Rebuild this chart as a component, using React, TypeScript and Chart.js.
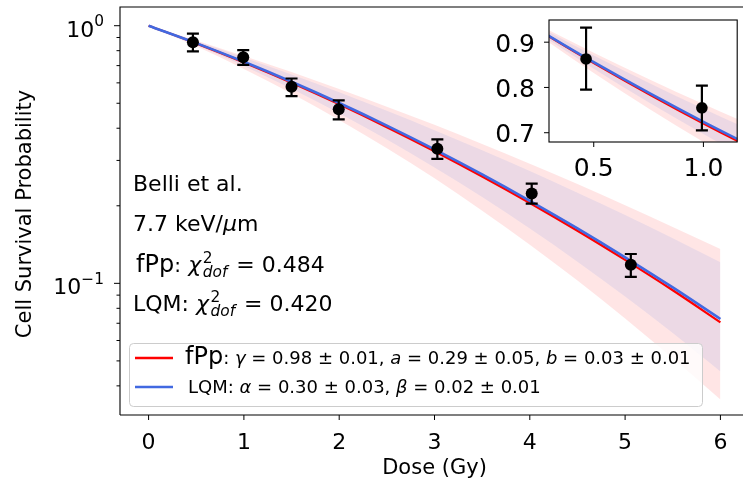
import React, { useEffect, useRef } from "react";
import { Chart, registerables } from "chart.js";
Chart.register(...registerables);

// ---- data ----
const doseGrid = [0, 0.5, 1, 1.5, 2, 2.5, 3, 3.5, 4, 4.5, 5, 5.5, 6];
const fppFit = [1.0, 0.8541, 0.7205, 0.601, 0.4955, 0.4039, 0.3258, 0.2599, 0.2051, 0.16, 0.1233, 0.094, 0.0706];
const lqmFit = [1.0, 0.8558, 0.7241, 0.6058, 0.501, 0.4096, 0.3311, 0.2647, 0.2091, 0.1634, 0.1262, 0.0964, 0.0727];
const fppUpper = [1.0, 0.8768, 0.7634, 0.661, 0.5678, 0.4849, 0.4125, 0.3474, 0.291, 0.243, 0.201, 0.1655, 0.1359];
const fppLower = [1.0, 0.8317, 0.6795, 0.5461, 0.4309, 0.3343, 0.2556, 0.1914, 0.1411, 0.1025, 0.073, 0.0512, 0.0354];
const lqmUpper = [1.0, 0.8707, 0.753, 0.6468, 0.5517, 0.4674, 0.3932, 0.3287, 0.2727, 0.2249, 0.1841, 0.1497, 0.1208];
const lqmLower = [1.0, 0.8413, 0.6971, 0.5688, 0.457, 0.3615, 0.2816, 0.2161, 0.1632, 0.1214, 0.0889, 0.0642, 0.0455];
const expDose = [0.465, 0.993, 1.5, 1.995, 3.03, 4.02, 5.06];
const expSurv = [0.863, 0.755, 0.579, 0.474, 0.333, 0.223, 0.118];
const expErrLow = [0.795, 0.705, 0.533, 0.433, 0.304, 0.204, 0.106];
const expErrHigh = [0.932, 0.804, 0.624, 0.513, 0.362, 0.244, 0.13];

const xTicks = [0, 1, 2, 3, 4, 5, 6];
const yMajorTicks = [1, 0.1];
const yMajorLabels = [["10", "0"], ["10", "\u22121"]];
const yMinorTicks = [0.9, 0.8, 0.7, 0.6, 0.5, 0.4, 0.3, 0.2, 0.09, 0.08, 0.07, 0.06, 0.05, 0.04];
const insetXTicks = [0.5, 1.0];
const insetXLabels = ["0.5", "1.0"];
const insetYTicks = [0.7, 0.8, 0.9];
const insetYLabels = ["0.7", "0.8", "0.9"];

const FONT = '"DejaVu Sans"';
const RED = "#ff0000";
const BLUE = "#4169e1";
const POINTS_IDX = 6;

const xy = (ys: number[]) => doseGrid.map((x, i) => ({ x, y: ys[i] }));

function makeDatasets(markerR: number): any[] {
  const band = { borderWidth: 0, pointRadius: 0, borderColor: "transparent", cubicInterpolationMode: "monotone" };
  return [
    { ...band, order: 10, label: "fPp band", data: xy(fppUpper), fill: "+1", backgroundColor: "rgba(255,0,0,0.1)" },
    { ...band, order: 9, label: "fPp band low", data: xy(fppLower), fill: false },
    { ...band, order: 8, label: "LQM band", data: xy(lqmUpper), fill: "+1", backgroundColor: "rgba(65,105,225,0.1)" },
    { ...band, order: 7, label: "LQM band low", data: xy(lqmLower), fill: false },
    { order: 4, label: "fPp", data: xy(fppFit), borderColor: RED, borderWidth: 2.2, pointRadius: 0, fill: false, cubicInterpolationMode: "monotone" },
    { order: 3, label: "LQM", data: xy(lqmFit), borderColor: BLUE, borderWidth: 2.6, pointRadius: 0, fill: false, cubicInterpolationMode: "monotone" },
    {
      order: 1,
      label: "Belli et al.",
      data: expDose.map((x, i) => ({ x, y: expSurv[i] })),
      showLine: false,
      pointRadius: markerR,
      pointBackgroundColor: "#000",
      pointBorderColor: "#000",
      pointBorderWidth: 0,
    },
  ];
}

function font(size: number, italic = false) {
  return `${italic ? "italic " : ""}${size}px ${FONT}`;
}

type Run = { t: string; size: number; italic?: boolean; dy?: number };
function drawRuns(ctx: CanvasRenderingContext2D, runs: Run[], x: number, y: number) {
  let cx = x;
  ctx.textAlign = "left";
  ctx.textBaseline = "alphabetic";
  for (const r of runs) {
    ctx.font = font(r.size, r.italic);
    ctx.fillText(r.t, cx, y + (r.dy || 0));
    cx += ctx.measureText(r.t).width;
  }
  return cx;
}

function drawChi(ctx: CanvasRenderingContext2D, x: number, y: number, size: number) {
  ctx.font = font(size, true);
  ctx.fillText("\u03c7", x, y);
  const cx = x + ctx.measureText("\u03c7").width + 1.5;
  const s = size * 0.7;
  ctx.font = font(s);
  ctx.fillText("2", cx, y - size * 0.42);
  const w1 = ctx.measureText("2").width;
  ctx.font = font(s, true);
  ctx.fillText("dof", cx, y + size * 0.22);
  const w2 = ctx.measureText("dof").width;
  return cx + Math.max(w1, w2) + 2;
}

function drawErrorBars(chart: any, capHalf: number) {
  const ctx = chart.ctx as CanvasRenderingContext2D;
  const xs = chart.scales.x;
  const ys = chart.scales.y;
  const a = chart.chartArea;
  ctx.save();
  ctx.beginPath();
  ctx.rect(a.left, a.top, a.right - a.left, a.bottom - a.top);
  ctx.clip();
  ctx.strokeStyle = "#000";
  ctx.lineWidth = 2.2;
  for (let i = 0; i < expDose.length; i++) {
    const px = xs.getPixelForValue(expDose[i]);
    const y1 = ys.getPixelForValue(expErrLow[i]);
    const y2 = ys.getPixelForValue(expErrHigh[i]);
    ctx.beginPath();
    ctx.moveTo(px, y1);
    ctx.lineTo(px, y2);
    ctx.moveTo(px - capHalf, y1);
    ctx.lineTo(px + capHalf, y1);
    ctx.moveTo(px - capHalf, y2);
    ctx.lineTo(px + capHalf, y2);
    ctx.stroke();
  }
  ctx.restore();
}

const mainDecor = {
  id: "mainDecor",
  beforeDatasetDraw(chart: any, args: any) {
    if (args.index === POINTS_IDX) drawErrorBars(chart, 6);
  },
  afterDraw(chart: any) {
    const ctx = chart.ctx as CanvasRenderingContext2D;
    const a = chart.chartArea;
    const xs = chart.scales.x;
    const ys = chart.scales.y;
    ctx.save();
    ctx.fillStyle = "#000";
    ctx.strokeStyle = "#000";
    // frame
    ctx.lineWidth = 1.1;
    ctx.beginPath();
    ctx.moveTo(a.left, a.bottom);
    ctx.lineTo(a.left, a.top);
    ctx.lineTo(a.right, a.top);
    ctx.lineTo(a.right, a.bottom);
    ctx.lineTo(a.left, a.bottom);
    ctx.stroke();
    // x ticks
    ctx.lineWidth = 1;
    ctx.font = font(22);
    ctx.textAlign = "center";
    ctx.textBaseline = "alphabetic";
    for (const t of xTicks) {
      const px = xs.getPixelForValue(t);
      ctx.beginPath();
      ctx.moveTo(px, a.bottom);
      ctx.lineTo(px, a.bottom + 5);
      ctx.stroke();
      ctx.fillText(String(t), px, a.bottom + 34);
    }
    // y ticks
    for (const t of yMinorTicks) {
      const py = ys.getPixelForValue(t);
      ctx.beginPath();
      ctx.moveTo(a.left - 3.5, py);
      ctx.lineTo(a.left, py);
      ctx.stroke();
    }
    yMajorTicks.forEach((t, i) => {
      const py = ys.getPixelForValue(t);
      ctx.beginPath();
      ctx.moveTo(a.left - 6, py);
      ctx.lineTo(a.left, py);
      ctx.stroke();
      const [base, sup] = yMajorLabels[i];
      const xr = a.left - 16;
      ctx.textAlign = "left";
      ctx.font = font(15.4);
      const ws = ctx.measureText(sup).width;
      ctx.font = font(22);
      const wb = ctx.measureText(base).width;
      ctx.fillText(base, xr - ws - wb, py + 11);
      ctx.font = font(15.4);
      ctx.fillText(sup, xr - ws, py + 0.5);
    });
    // axis titles
    ctx.font = font(21);
    ctx.textAlign = "center";
    ctx.fillText("Dose (Gy)", (a.left + a.right) / 2, 474);
    ctx.save();
    ctx.translate(31, (a.top + a.bottom) / 2 + 3);
    ctx.rotate(-Math.PI / 2);
    ctx.fillText("Cell Survival Probability", 0, 0);
    ctx.restore();
    // annotations
    const A = 22;
    drawRuns(ctx, [{ t: "Belli et al.", size: A }], 133, 191);
    drawRuns(ctx, [{ t: "7.7 keV/", size: A }, { t: "\u03bc", size: A, italic: true }, { t: "m", size: A }], 133, 231);
    let cx = drawRuns(ctx, [{ t: "fPp", size: 24 }, { t: ": ", size: 20 }], 136, 272);
    cx = drawChi(ctx, cx + 1, 272, A);
    drawRuns(ctx, [{ t: " = 0.484", size: A }], cx, 272);
    cx = drawRuns(ctx, [{ t: "LQM: ", size: A }], 133, 311);
    cx = drawChi(ctx, cx, 311, A);
    drawRuns(ctx, [{ t: " = 0.420", size: A }], cx, 311);
    // legend
    ctx.beginPath();
    (ctx as any).roundRect(129.5, 343.5, 573, 63, 4);
    ctx.fillStyle = "rgba(255,255,255,0.8)";
    ctx.fill();
    ctx.strokeStyle = "#cccccc";
    ctx.lineWidth = 1;
    ctx.stroke();
    ctx.lineWidth = 2.5;
    ctx.strokeStyle = RED;
    ctx.beginPath();
    ctx.moveTo(135, 358);
    ctx.lineTo(173, 358);
    ctx.stroke();
    ctx.strokeStyle = BLUE;
    ctx.beginPath();
    ctx.moveTo(135, 387);
    ctx.lineTo(173, 387);
    ctx.stroke();
    ctx.fillStyle = "#000";
    const L = 18;
    drawRuns(
      ctx,
      [
        { t: "fPp", size: 24 },
        { t: ": ", size: L },
        { t: "\u03b3", size: L, italic: true },
        { t: " = 0.98 \u00b1 0.01, ", size: L },
        { t: "a", size: L, italic: true },
        { t: " = 0.29 \u00b1 0.05, ", size: L },
        { t: "b", size: L, italic: true },
        { t: " = 0.03 \u00b1 0.01", size: L },
      ],
      185,
      364
    );
    drawRuns(
      ctx,
      [
        { t: "LQM: ", size: L },
        { t: "\u03b1", size: L, italic: true },
        { t: " = 0.30 \u00b1 0.03, ", size: L },
        { t: "\u03b2", size: L, italic: true },
        { t: " = 0.02 \u00b1 0.01", size: L },
      ],
      188,
      393
    );
    ctx.restore();
  },
};

const insetDecor = {
  id: "insetDecor",
  beforeDraw(chart: any) {
    const ctx = chart.ctx as CanvasRenderingContext2D;
    const a = chart.chartArea;
    ctx.save();
    ctx.fillStyle = "#fff";
    ctx.fillRect(a.left, a.top, a.right - a.left, a.bottom - a.top);
    ctx.restore();
  },
  beforeDatasetDraw(chart: any, args: any) {
    if (args.index === POINTS_IDX) drawErrorBars(chart, 6);
  },
  afterDraw(chart: any) {
    const ctx = chart.ctx as CanvasRenderingContext2D;
    const a = chart.chartArea;
    const xs = chart.scales.x;
    const ys = chart.scales.y;
    ctx.save();
    ctx.strokeStyle = "#000";
    ctx.fillStyle = "#000";
    ctx.lineWidth = 1.1;
    ctx.strokeRect(a.left, a.top, a.right - a.left, a.bottom - a.top);
    ctx.lineWidth = 1;
    ctx.font = font(25);
    ctx.textBaseline = "alphabetic";
    ctx.textAlign = "center";
    insetXTicks.forEach((t, i) => {
      const px = xs.getPixelForValue(t);
      ctx.beginPath();
      ctx.moveTo(px, a.bottom);
      ctx.lineTo(px, a.bottom + 5);
      ctx.stroke();
      ctx.fillText(insetXLabels[i], px, a.bottom + 34);
    });
    ctx.textAlign = "right";
    insetYTicks.forEach((t, i) => {
      const py = ys.getPixelForValue(t);
      ctx.beginPath();
      ctx.moveTo(a.left - 5, py);
      ctx.lineTo(a.left, py);
      ctx.stroke();
      ctx.fillText(insetYLabels[i], a.left - 14, py + 9.5);
    });
    ctx.restore();
  },
};

function hiddenScale(extra: any) {
  return {
    display: true,
    ticks: { display: false },
    grid: { display: false, drawTicks: false },
    border: { display: false },
    ...extra,
  };
}

export default function App() {
  const mainRef = useRef<HTMLCanvasElement>(null);
  const insetRef = useRef<HTMLCanvasElement>(null);

  useEffect(() => {
    const main = new Chart(mainRef.current as HTMLCanvasElement, {
      type: "line",
      data: { datasets: makeDatasets(6) },
      options: {
        responsive: false,
        animation: false,
        devicePixelRatio: 1,
        events: [],
        layout: { padding: { left: 0, top: 7, right: 11, bottom: 0 } },
        plugins: { legend: { display: false }, tooltip: { enabled: false }, title: { display: false } },
        scales: {
          x: hiddenScale({ type: "linear", min: -0.3, max: 6.3, afterFit: (s: any) => { s.height = 69; } }),
          y: hiddenScale({ type: "logarithmic", min: 0.03083, max: 1.182, afterFit: (s: any) => { s.width = 120; } }),
        },
      } as any,
      plugins: [mainDecor],
    });
    const inset = new Chart(insetRef.current as HTMLCanvasElement, {
      type: "line",
      data: { datasets: makeDatasets(5.8) },
      options: {
        responsive: false,
        animation: false,
        devicePixelRatio: 1,
        events: [],
        layout: { padding: { left: 0, top: 10, right: 5, bottom: 0 } },
        plugins: { legend: { display: false }, tooltip: { enabled: false }, title: { display: false } },
        scales: {
          x: hiddenScale({ type: "linear", min: 0.296, max: 1.154, afterFit: (s: any) => { s.height = 48; } }),
          y: hiddenScale({ type: "linear", min: 0.6795, max: 0.949, afterFit: (s: any) => { s.width = 79; } }),
        },
      } as any,
      plugins: [insetDecor],
    });
    return () => {
      main.destroy();
      inset.destroy();
    };
  }, []);

  return (
    <div style={{ position: "fixed", left: 0, top: 0, width: 743, height: 484, overflow: "hidden", background: "#fff" }}>
      <canvas ref={mainRef} width={760} height={484} style={{ position: "absolute", left: 0, top: 0, width: 760, height: 484 }} />
      <canvas ref={insetRef} width={273} height={180} style={{ position: "absolute", left: 470, top: 10, width: 273, height: 180 }} />
    </div>
  );
}
